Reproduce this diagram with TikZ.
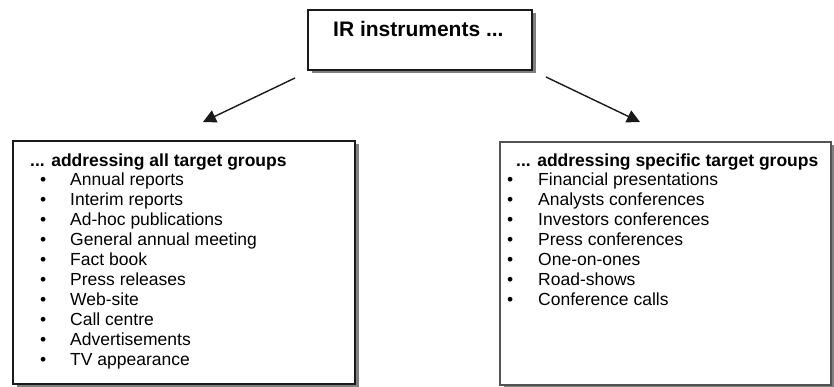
\documentclass[tikz,border=0pt]{standalone}
\usepackage{fontspec}
\setmainfont{Liberation Sans}
\usetikzlibrary{arrows.meta,shadows}
\definecolor{ink}{HTML}{1A1A1A}
\definecolor{shade}{HTML}{808080}
\tikzset{
  frame/.style={draw=ink, fill=white, line width=1.2pt,
    drop shadow={shadow xshift=3.5pt, shadow yshift=-3.5pt, fill=shade, opacity=1}},
  head/.style={anchor=west, inner sep=0pt, text height=12.6pt, text depth=3.7pt,
    font=\bfseries\fontsize{17.5}{20}\selectfont},
  item/.style={anchor=west, inner sep=0pt, text height=12.6pt, text depth=3.7pt,
    font=\fontsize{17.5}{20}\selectfont},
  arr/.style={draw=ink, line width=1.4pt, -{Triangle[length=13pt,width=13pt]}},
}

\begin{document}
\begin{tikzpicture}[x=1pt, y=-1pt]
  \useasboundingbox (0,0) rectangle (834,387);
  % the three boxes
  \node[frame, minimum width=224pt, minimum height=60pt] (top) at (420,40) {};
  \node[frame, minimum width=342pt, minimum height=243pt] (allbox) at (184,262.5) {};
  \node[frame, draw=ink!75, minimum width=331pt, minimum height=243pt] (specbox) at (665.5,263.5) {};
  \node[head, font=\bfseries\fontsize{21}{24}\selectfont] (toptext) at (333,32) {IR instruments ...};
  % arrows
  \coordinate (lbeg) at (295,78);
  \coordinate (lend) at (203,122);
  \coordinate (rbeg) at (546,77);
  \coordinate (rend) at (640,122);
  \draw[arr] (lbeg) -- (lend);
  \draw[arr] (rbeg) -- (rend);
  % left list
  \node[head] (allhead) at (30,162) {... addressing all target groups};
  \node[item] (a1) at (40,181.5) {\makebox[30pt][l]{•}Annual reports};
  \node[item] (a2) at (40,201.5) {\makebox[30pt][l]{•}Interim reports};
  \node[item] (a3) at (40,221.5) {\makebox[30pt][l]{•}Ad-hoc publications};
  \node[item] (a4) at (40,241.5) {\makebox[30pt][l]{•}General annual meeting};
  \node[item] (a5) at (40,261.5) {\makebox[30pt][l]{•}Fact book};
  \node[item] (a6) at (40,281.5) {\makebox[30pt][l]{•}Press releases};
  \node[item] (a7) at (40,301.5) {\makebox[30pt][l]{•}Web-site};
  \node[item] (a8) at (40,321.5) {\makebox[30pt][l]{•}Call centre};
  \node[item] (a9) at (40,341.5) {\makebox[30pt][l]{•}Advertisements};
  \node[item] (a10) at (40,361.5) {\makebox[30pt][l]{•}TV appearance};
  % right list
  \node[head] (spechead) at (516,162) {... addressing specific target groups};
  \node[item] (s1) at (507,181.5) {\makebox[31pt][l]{•}Financial presentations};
  \node[item] (s2) at (507,201.5) {\makebox[31pt][l]{•}Analysts conferences};
  \node[item] (s3) at (507,221.5) {\makebox[31pt][l]{•}Investors conferences};
  \node[item] (s4) at (507,241.5) {\makebox[31pt][l]{•}Press conferences};
  \node[item] (s5) at (507,261.5) {\makebox[31pt][l]{•}One-on-ones};
  \node[item] (s6) at (507,281.5) {\makebox[31pt][l]{•}Road-shows};
  \node[item] (s7) at (507,301.5) {\makebox[31pt][l]{•}Conference calls};
\end{tikzpicture}
\end{document}
